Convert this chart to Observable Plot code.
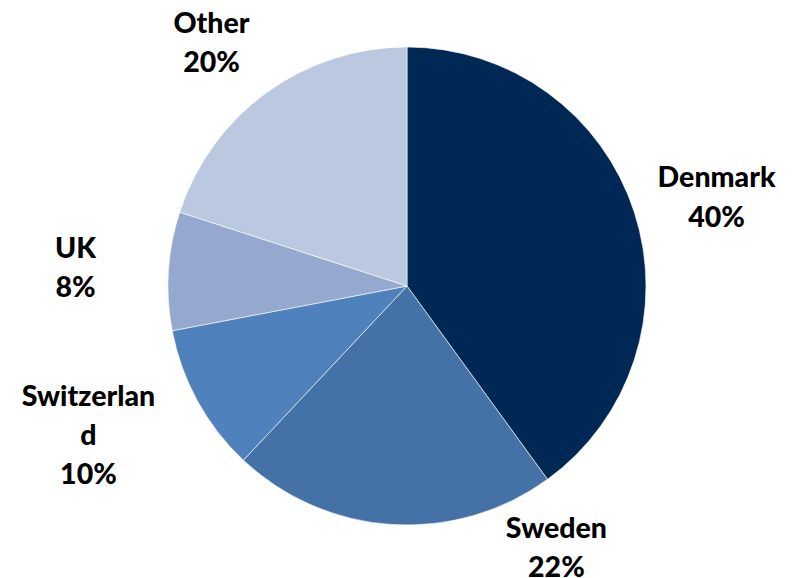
<!DOCTYPE html>
<html>
<head>
<meta charset="utf-8">
<script src="https://cdn.jsdelivr.net/npm/d3@7"></script>
<script src="https://cdn.jsdelivr.net/npm/@observablehq/plot@0.6"></script>
<style>
  html, body { margin: 0; padding: 0; background: #fff; }
  #chart svg { display: block; }
</style>
</head>
<body>
<div id="chart"></div>
<script>
// Data
const countries = ["Denmark", "Sweden", "Switzerland", "UK", "Other"];
const shares = [40, 22, 10, 8, 20];
const labelText = ["Denmark\n40%", "Sweden\n22%", "Switzerlan\nd\n10%", "UK\n8%", "Other\n20%"];
const colors = ["#002855", "#4472a7", "#4f81bd", "#95a9d0", "#bac8e0"];
// label anchor positions (in units of pie radius, relative to centre)
const labelX = [1.293, 0.623, -1.335, -1.389, -0.820];
const labelY = [0.385, -1.080, -0.610, 0.088, 1.030];

const W = 792, H = 578;
const R = 239, cx = 407, cy = 286;

const slices = countries.map((c, i) => ({country: c, value: shares[i]}));
const labels = countries.map((c, i) => ({country: c, text: labelText[i], x: labelX[i], y: labelY[i]}));

const colorScale = Plot.scale({color: {type: "ordinal", domain: countries, range: colors}});

const pieMark = (index, scales) => {
  const x = scales.x, y = scales.y;
  const ox = x(0), oy = y(0), r = x(1) - x(0);
  const arcs = d3.pie().sort(null).value(d => d.value)(slices);
  const arc = d3.arc().innerRadius(0).outerRadius(r);
  const g = d3.create("svg:g").attr("transform", `translate(${ox},${oy})`);
  g.selectAll("path").data(arcs).join("path")
    .attr("d", arc)
    .attr("fill", d => colorScale.apply(d.data.country))
    .attr("stroke", "#ffffff")
    .attr("stroke-width", 0.6)
    .attr("stroke-linejoin", "round");
  return g.node();
};

const chart = Plot.plot({
  width: W,
  height: H,
  margin: 0,
  x: {domain: [-cx / R, (W - cx) / R], range: [0, W], axis: null},
  y: {domain: [-(H - cy) / R, cy / R], range: [H, 0], axis: null},
  style: {fontFamily: "Lato, 'Open Sans', sans-serif", background: "#fff"},
  marks: [
    pieMark,
    Plot.text(labels, {
      x: "x", y: "y", text: "text",
      fontSize: 28.5, fontWeight: 900, fill: "#000",
      lineHeight: 1.37, lineAnchor: "middle", textAnchor: "middle"
    })
  ]
});

document.getElementById("chart").appendChild(chart);
</script>
</body>
</html>
